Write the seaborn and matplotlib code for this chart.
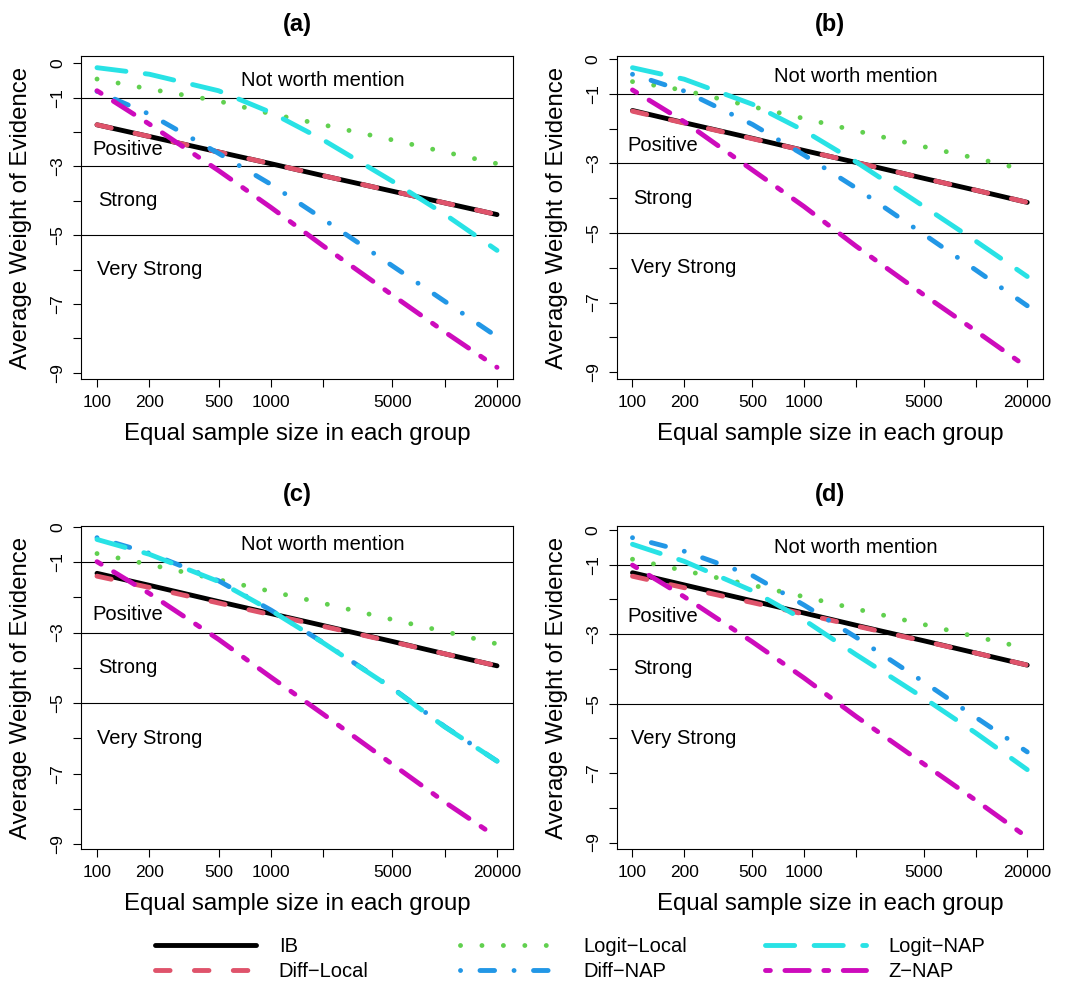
import matplotlib
matplotlib.use("Agg")
import matplotlib.pyplot as plt
import pandas as pd
import seaborn as sns
from matplotlib.lines import Line2D

# ---------------------------------------------------------------- data
sample_sizes = [100, 200, 500, 1000, 2000, 5000, 10000, 20000]
methods = ["IB", "Diff-Local", "Logit-Local", "Diff-NAP", "Logit-NAP", "Z-NAP"]
panel_titles = ["(a)", "(b)", "(c)", "(d)"]

# panel (a)
ib_a = [-1.79, -2.13, -2.58, -2.92, -3.27, -3.72, -4.06, -4.40]
diff_local_a = [-1.79, -2.13, -2.58, -2.92, -3.27, -3.72, -4.06, -4.40]
logit_local_a = [-0.46, -0.75, -1.10, -1.47, -1.79, -2.23, -2.58, -2.92]
diff_nap_a = [-0.82, -1.48, -2.62, -3.52, -4.53, -5.89, -6.92, -7.95]
logit_nap_a = [-0.13, -0.32, -0.80, -1.43, -2.23, -3.43, -4.39, -5.44]
z_nap_a = [-0.80, -1.77, -3.12, -4.19, -5.31, -6.74, -7.81, -8.84]

# panel (b)
ib_b = [-1.48, -1.83, -2.28, -2.63, -2.97, -3.43, -3.77, -4.12]
diff_local_b = [-1.50, -1.84, -2.29, -2.63, -2.97, -3.43, -3.77, -4.12]
logit_local_b = [-0.65, -0.90, -1.37, -1.71, -2.06, -2.52, -2.85, -3.20]
diff_nap_b = [-0.44, -0.92, -1.88, -2.76, -3.70, -5.04, -6.06, -7.09]
logit_nap_b = [-0.25, -0.58, -1.30, -2.06, -2.95, -4.24, -5.23, -6.25]
z_nap_b = [-0.89, -1.80, -3.19, -4.24, -5.37, -6.78, -7.81, -8.86]

# panel (c)
ib_c = [-1.32, -1.66, -2.12, -2.46, -2.80, -3.25, -3.60, -3.94]
diff_local_c = [-1.40, -1.72, -2.16, -2.49, -2.82, -3.26, -3.60, -3.94]
logit_local_c = [-0.76, -1.07, -1.50, -1.83, -2.17, -2.63, -2.97, -3.32]
diff_nap_c = [-0.31, -0.75, -1.53, -2.36, -3.28, -4.57, -5.66, -6.64]
logit_nap_c = [-0.36, -0.78, -1.55, -2.37, -3.29, -4.58, -5.67, -6.64]
z_nap_c = [-0.99, -1.89, -3.19, -4.26, -5.31, -6.73, -7.80, -8.80]

# panel (d)
ib_d = [-1.23, -1.58, -2.04, -2.39, -2.74, -3.19, -3.54, -3.89]
diff_local_d = [-1.33, -1.66, -2.09, -2.42, -2.76, -3.20, -3.54, -3.89]
logit_local_d = [-0.84, -1.17, -1.59, -1.92, -2.27, -2.72, -3.07, -3.41]
diff_nap_d = [-0.22, -0.61, -1.31, -2.16, -3.08, -4.38, -5.39, -6.39]
logit_nap_d = [-0.41, -0.90, -1.75, -2.59, -3.58, -4.84, -5.84, -6.90]
z_nap_d = [-1.01, -1.92, -3.22, -4.26, -5.36, -6.74, -7.78, -8.85]

panels = [
    [ib_a, diff_local_a, logit_local_a, diff_nap_a, logit_nap_a, z_nap_a],
    [ib_b, diff_local_b, logit_local_b, diff_nap_b, logit_nap_b, z_nap_b],
    [ib_c, diff_local_c, logit_local_c, diff_nap_c, logit_nap_c, z_nap_c],
    [ib_d, diff_local_d, logit_local_d, diff_nap_d, logit_nap_d, z_nap_d],
]

# evidence category bands
band_lines = [-1, -3, -5]
band_labels = ["Not worth mention", "Positive", "Strong", "Very Strong"]
band_label_x = [2000, 150, 150, 200]
band_label_y = [-0.5, -2.5, -4.0, -6.0]

x_ticks = [100, 200, 500, 1000, 2000, 5000, 10000, 20000]
x_ticklabels = ["100", "200", "500", "1000", "", "5000", "", "20000"]
y_ticks = [0, -1, -2, -3, -4, -5, -6, -7, -8, -9]
y_ticklabels = ["0", "\u22121", "", "\u22123", "", "\u22125", "", "\u22127", "", "\u22129"]

# ---------------------------------------------------------------- style
palette = {
    "IB": "#000000",
    "Diff-Local": "#DF536B",
    "Logit-Local": "#61D04F",
    "Diff-NAP": "#2297E6",
    "Logit-NAP": "#28E2E5",
    "Z-NAP": "#CD0BBC",
}
# dash patterns in units of line width (round caps add one width per dash)
dash_map = {
    "IB": "",
    "Diff-Local": (3, 5),
    "Logit-Local": (0.01, 4.4),
    "Diff-NAP": (0.01, 4, 3, 4),
    "Logit-NAP": (6, 4),
    "Z-NAP": (1, 3, 5, 3),
}
LW = 3.5

sns.set_theme(style="ticks")
plt.rcParams["font.family"] = ["Liberation Sans", "DejaVu Sans"]
plt.rcParams["lines.scale_dashes"] = True
plt.rcParams["text.color"] = "black"
plt.rcParams["axes.labelcolor"] = "black"

W, H = 1068, 982
fig = plt.figure(figsize=(W / 100, H / 100), dpi=100)
fig.patch.set_facecolor("white")

# axes boxes in pixels: left, top, right, bottom
boxes = [
    (81, 55.7, 513, 379.3),
    (616.7, 55.7, 1043, 379.3),
    (81, 525.7, 513, 849.3),
    (616.7, 525.7, 1043, 849.3),
]

for values, title, (l, t, r, b) in zip(panels, panel_titles, boxes):
    ax = fig.add_axes([l / W, 1 - b / H, (r - l) / W, (b - t) / H])
    ax.set_facecolor("white")
    pw, ph = r - l, b - t

    rows = []
    for m, vals in zip(methods, values):
        for n, v in zip(sample_sizes, vals):
            rows.append({"n": n, "woe": v, "method": m})
    df = pd.DataFrame(rows)

    for yv in band_lines:
        ax.axhline(yv, color="black", lw=0.8, zorder=1)

    sns.lineplot(
        data=df, x="n", y="woe", hue="method", style="method",
        hue_order=methods, style_order=methods,
        palette=palette, dashes=dash_map, linewidth=LW,
        errorbar=None, legend=False, ax=ax, zorder=2,
    )
    for ln in ax.get_lines()[len(band_lines):]:
        ln.set_dash_capstyle("round")
        ln.set_solid_capstyle("round")

    ax.set_xscale("log")
    ax.margins(x=0.04, y=0.04)
    ax.set_xticks(x_ticks)
    ax.set_xticklabels(x_ticklabels)
    ax.xaxis.set_minor_locator(matplotlib.ticker.NullLocator())
    ax.set_yticks(y_ticks)
    ax.set_yticklabels(y_ticklabels, rotation=90, va="center")
    ax.tick_params(axis="both", direction="out", length=5.5, width=0.8,
                   color="black", labelsize=12.5, labelcolor="black", pad=6)

    for sp in ax.spines.values():
        sp.set_visible(True)
        sp.set_color("black")
        sp.set_linewidth(0.8)

    for txt, tx, ty in zip(band_labels, band_label_x, band_label_y):
        ax.text(tx, ty, txt, ha="center", va="center", fontsize=14.5, color="black")

    ax.set_xlabel("Equal sample size in each group", fontsize=17.3, color="black")
    ax.set_ylabel("Average Weight of Evidence", fontsize=17.3, color="black")
    ax.xaxis.set_label_coords(0.5, -54.5 / ph)
    ax.xaxis.label.set_va("center")
    ax.yaxis.set_label_coords(-59.5 / pw, 0.5)
    ax.yaxis.label.set_va("center")
    ax.text(0.5, 1 + 30.7 / ph, title, transform=ax.transAxes,
            ha="center", va="center", fontsize=17, fontweight="bold",
            color="black")

# ---------------------------------------------------------------- legend
legend_text = {
    "IB": "IB",
    "Diff-Local": "Diff\u2212Local",
    "Logit-Local": "Logit\u2212Local",
    "Diff-NAP": "Diff\u2212NAP",
    "Logit-NAP": "Logit\u2212NAP",
    "Z-NAP": "Z\u2212NAP",
}


def handle(m):
    h = Line2D([], [], color=palette[m], lw=LW, solid_capstyle="round",
               dash_capstyle="round")
    if dash_map[m]:
        h.set_dashes(dash_map[m])
    return h


columns = [("IB", "Diff-Local"), ("Logit-Local", "Diff-NAP"), ("Logit-NAP", "Z-NAP")]
col_x = [155, 460, 765]
for cx, pair in zip(col_x, columns):
    leg = fig.legend(
        [handle(m) for m in pair], [legend_text[m] for m in pair],
        loc="center left", bbox_to_anchor=(cx / W, 1 - 959 / H),
        frameon=False, borderpad=0, borderaxespad=0,
        handlelength=5.0, handletextpad=1.15, labelspacing=0.3,
        fontsize=14.5,
    )
    for t in leg.get_texts():
        t.set_color("black")

fig.savefig("out.png", dpi=100, facecolor="white")
